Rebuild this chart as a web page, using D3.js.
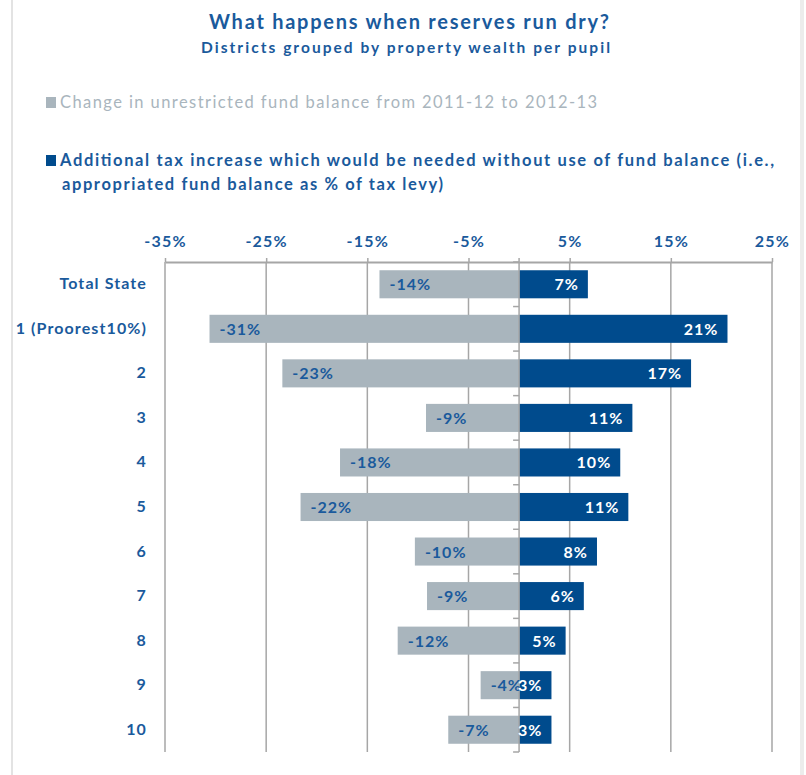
<!DOCTYPE html>
<html>
<head>
<meta charset="utf-8">
<script src="https://cdn.jsdelivr.net/npm/d3@7"></script>
<style>
  body { margin: 0; background: #fff; }
  svg text { font-family: Lato, "Open Sans", sans-serif; }
</style>
</head>
<body>
<svg id="chart" width="806" height="775"></svg>
<script>
var categories = ['Total State', '1 (Proorest10%)', '2', '3', '4', '5', '6', '7', '8', '9', '10'];
var fundChange = [-13.8, -30.6, -23.4, -9.2, -17.7, -21.6, -10.3, -9.1, -12.0, -3.8, -7.0];
var taxIncrease = [6.8, 20.6, 17.0, 11.2, 10.0, 10.8, 7.7, 6.4, 4.6, 3.2, 3.2];
var tickValues = [-35, -25, -15, -5, 5, 15, 25];

var blue = '#004b8d';
var grey = '#a9b5bd';
var textBlue = '#1a5a9c';
var gridGrey = '#a6a6a6';

var svg = d3.select('#chart');

// frame lines at the edges
svg.append('line').attr('x1', 12).attr('x2', 12).attr('y1', 0).attr('y2', 775)
  .attr('stroke', '#e3e3e3').attr('stroke-width', 2);
svg.append('line').attr('x1', 802).attr('x2', 802).attr('y1', 0).attr('y2', 775)
  .attr('stroke', '#ececec').attr('stroke-width', 4);

// titles
svg.append('text').attr('x', 209).attr('y', 29)
  .attr('font-size', 20).attr('font-weight', 'bold').attr('fill', textBlue)
  .attr('textLength', 400).attr('lengthAdjust', 'spacing')
  .text('What happens when reserves run dry?');
svg.append('text').attr('x', 201).attr('y', 53)
  .attr('font-size', 15.5).attr('font-weight', 'bold').attr('fill', textBlue)
  .attr('textLength', 409).attr('lengthAdjust', 'spacing')
  .text('Districts grouped by property wealth per pupil');

// legend
svg.append('rect').attr('x', 46).attr('y', 97).attr('width', 10).attr('height', 11).attr('fill', grey);
svg.append('text').attr('x', 60).attr('y', 108).attr('font-size', 16.5).attr('fill', grey)
  .attr('textLength', 537).attr('lengthAdjust', 'spacing')
  .text('Change in unrestricted fund balance from 2011-12 to 2012-13');
svg.append('rect').attr('x', 46).attr('y', 155).attr('width', 10).attr('height', 11).attr('fill', blue);
svg.append('text').attr('x', 60).attr('y', 166).attr('font-size', 16.5).attr('font-weight', 'bold').attr('fill', textBlue)
  .attr('textLength', 714).attr('lengthAdjust', 'spacing')
  .text('Additional tax increase which would be needed without use of fund balance (i.e.,');
svg.append('text').attr('x', 62).attr('y', 190).attr('font-size', 16.5).attr('font-weight', 'bold').attr('fill', textBlue)
  .attr('textLength', 381).attr('lengthAdjust', 'spacing')
  .text('appropriated fund balance as % of tax levy)');

var x = d3.scaleLinear().domain([-35, 25]).range([165, 772]);
var y = d3.scaleBand().domain(categories).range([262, 752])
  .paddingInner(0.37).paddingOuter(0.185);

var yTop = y.range()[0], yBottom = y.range()[1];

// gridlines
svg.append('g').selectAll('line').data(tickValues).join('line')
  .attr('x1', function(d) { return x(d); })
  .attr('x2', function(d) { return x(d); })
  .attr('y1', yTop).attr('y2', yBottom)
  .attr('stroke', gridGrey).attr('stroke-width', 1.5);

// top axis
var axis = svg.append('g').attr('transform', 'translate(0,' + yTop + ')')
  .call(d3.axisTop(x).tickValues(tickValues).tickSize(4).tickSizeOuter(0)
    .tickFormat(function(d) { return d + '%'; }));
axis.select('.domain').attr('stroke', gridGrey).attr('stroke-width', 2);
axis.selectAll('.tick line').attr('stroke', gridGrey).attr('stroke-width', 1.5);
axis.selectAll('.tick text').attr('fill', textBlue).attr('font-size', 16)
  .attr('font-weight', 'bold').attr('letter-spacing', 1.2)
  .attr('font-family', 'Lato, sans-serif').attr('dy', '-8');

// category labels
svg.append('g').selectAll('text').data(categories).join('text')
  .attr('x', 147)
  .attr('y', function(d) { return y(d) + y.bandwidth() / 2 + 5; })
  .attr('text-anchor', 'end').attr('font-size', 16).attr('font-weight', 'bold')
  .attr('letter-spacing', 1.1)
  .attr('fill', textBlue)
  .text(function(d) { return d; });

// grey bars
svg.append('g').selectAll('rect').data(fundChange).join('rect')
  .attr('x', function(d) { return x(d); })
  .attr('y', function(d, i) { return y(categories[i]); })
  .attr('width', function(d) { return x(0) - x(d); })
  .attr('height', y.bandwidth())
  .attr('fill', grey);

// blue bars
svg.append('g').selectAll('rect').data(taxIncrease).join('rect')
  .attr('x', x(0))
  .attr('y', function(d, i) { return y(categories[i]); })
  .attr('width', function(d) { return x(d) - x(0); })
  .attr('height', y.bandwidth())
  .attr('fill', blue);

// zero axis with category ticks
svg.append('line').attr('x1', x(0)).attr('x2', x(0)).attr('y1', yTop - 4).attr('y2', yBottom)
  .attr('stroke', gridGrey).attr('stroke-width', 1.5);
svg.append('g').selectAll('line').data(d3.range(categories.length + 1)).join('line')
  .attr('x1', x(0) - 6).attr('x2', x(0))
  .attr('y1', function(k) { return yTop + k * y.step(); })
  .attr('y2', function(k) { return yTop + k * y.step(); })
  .attr('stroke', gridGrey).attr('stroke-width', 1.5);

// value labels
svg.append('g').selectAll('text').data(fundChange).join('text')
  .attr('x', function(d) { return x(d) + 10; })
  .attr('y', function(d, i) { return y(categories[i]) + y.bandwidth() / 2 + 6; })
  .attr('font-size', 16).attr('font-weight', 'bold').attr('letter-spacing', 1)
  .attr('fill', textBlue)
  .text(function(d) { return Math.round(d) + '%'; });

svg.append('g').selectAll('text').data(taxIncrease).join('text')
  .attr('x', function(d) { return x(d) - 9; })
  .attr('y', function(d, i) { return y(categories[i]) + y.bandwidth() / 2 + 6; })
  .attr('text-anchor', 'end')
  .attr('font-size', 16).attr('font-weight', 'bold').attr('letter-spacing', 1)
  .attr('fill', '#fff')
  .text(function(d) { return Math.round(d) + '%'; });
</script>
</body>
</html>
